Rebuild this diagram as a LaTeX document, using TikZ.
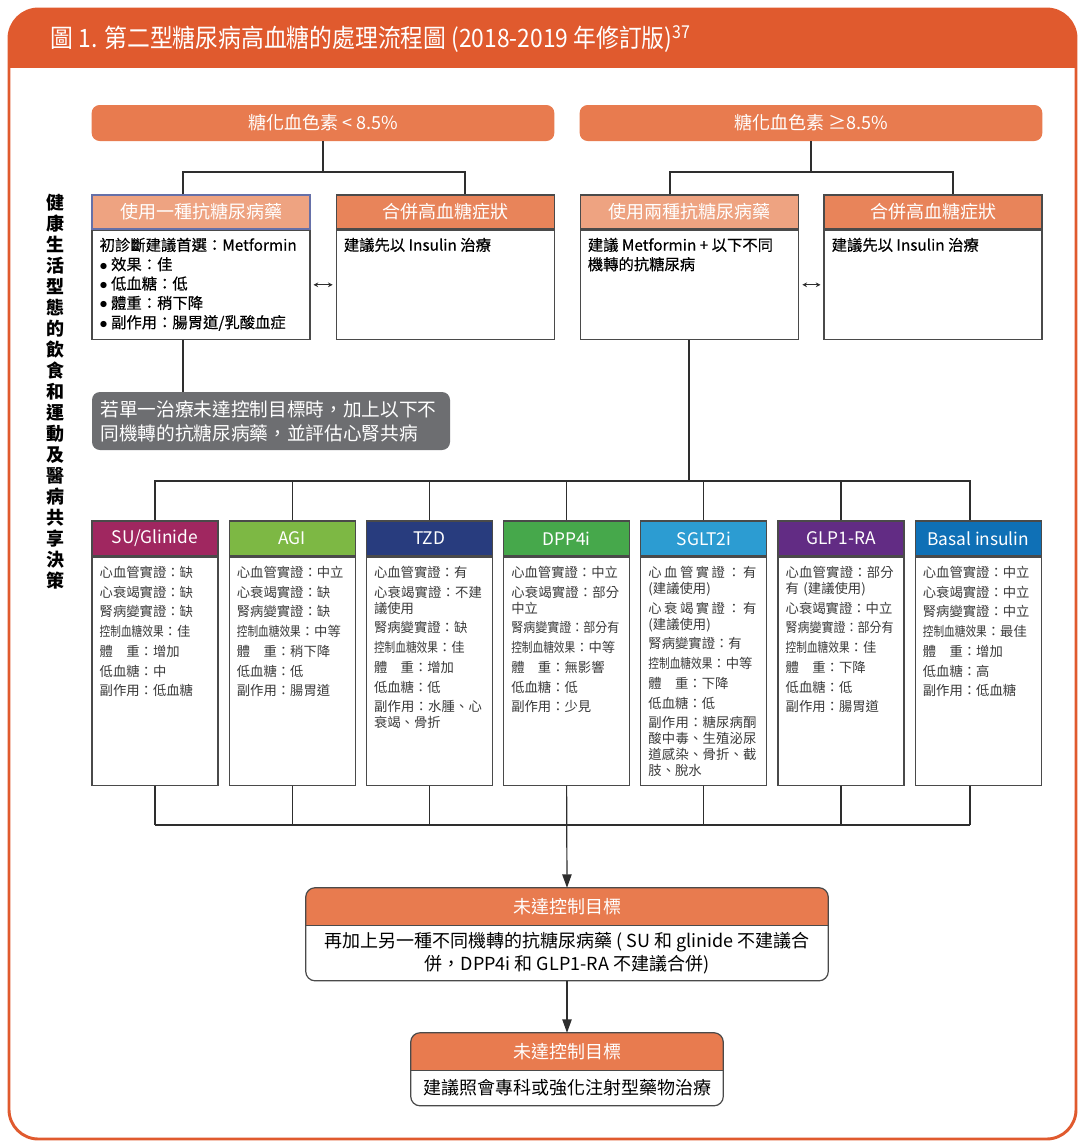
\documentclass[tikz,border=0pt]{standalone}
\usepackage{fontspec}
\setmainfont{Noto Sans CJK TC}
\newfontfamily\medfont{Noto Sans CJK TC}[FakeBold=0.4]
\usetikzlibrary{arrows.meta,positioning,backgrounds}

\definecolor{framec}{HTML}{E05A2E}
\definecolor{topc}{HTML}{E87B4F}
\definecolor{lightc}{HTML}{EEA381}
\definecolor{midc}{HTML}{E8845A}
\definecolor{notec}{HTML}{6D6E71}
\definecolor{boxline}{HTML}{4A4A4A}
\definecolor{hdrblue}{HTML}{6670A8}
\definecolor{wirec}{HTML}{2E2E2E}
\definecolor{txtc}{HTML}{3A3A3A}
\definecolor{suc}{HTML}{A02760}
\definecolor{agic}{HTML}{7DB844}
\definecolor{tzdc}{HTML}{283C7E}
\definecolor{dppc}{HTML}{46A84B}
\definecolor{sgltc}{HTML}{2C9CD2}
\definecolor{glpc}{HTML}{622C84}
\definecolor{basalc}{HTML}{0F70B6}

\newcommand{\ctl}{\scalebox{0.8}[1]{控制血糖效果}}
\newcommand{\sq}[1]{\resizebox{81pt}{\height}{#1}}
\newcommand{\jl}[1]{\makebox[81pt][s]{\spaceskip=0pt plus 1fil\relax #1}}
\newcommand{\cbr}{\\[-2.8pt]}
\newcommand{\bul}{$\bullet$\ }

\tikzset{
  wire/.style={draw=wirec, line width=0.9pt},
  arrow/.style={wire, -{Triangle[length=10pt,width=7pt]}},
  dbl/.style={wire, line width=0.7pt, {Stealth[length=3.5pt,width=3.5pt]}-{Stealth[length=3.5pt,width=3.5pt]}, shorten <=2.2pt, shorten >=2.2pt},
  topbox/.style={fill=topc, rounded corners=6pt, minimum width=347pt, minimum height=27pt,
    text=white, font=\fontsize{13.5}{16}\selectfont, inner sep=0pt},
  hdr/.style={draw=boxline, line width=0.8pt, minimum height=25.5pt, text=white,
    font=\fontsize{13.5}{16}\selectfont, inner sep=0pt},
  rowbody/.style={draw=boxline, line width=0.9pt, fill=white, anchor=north, minimum height=82pt, inner sep=0pt},
  rowtext/.style={anchor=north west, align=left, inner sep=0pt, text=black,
    font=\medfont\fontsize{11.5}{14.5}\selectfont},
  note/.style={fill=notec, rounded corners=6pt, text=white, minimum width=268.5pt, minimum height=43.5pt,
    text width=256pt, inner xsep=6pt, align=left, font=\fontsize{14}{18}\selectfont},
  drughdr/.style={draw=boxline, line width=0.8pt, minimum width=94.5pt, minimum height=26.25pt,
    text=white, inner sep=0pt, font=\fontsize{13}{15}\selectfont},
  drugbody/.style={draw=boxline, line width=0.9pt, fill=white, anchor=north, minimum width=94.5pt,
    minimum height=171pt, inner sep=0pt},
  drugtext/.style={anchor=north west, align=left, inner sep=0pt, text=txtc, text width=82.5pt,
    font=\fontsize{10}{14.8}\selectfont},
  goalhdr/.style={minimum height=27.75pt, text=white, inner sep=0pt, font=\fontsize{13.5}{16}\selectfont},
  goalbody/.style={anchor=north, align=center, inner sep=0pt, text=black,
    font=\fontsize{13.5}{17.25}\selectfont},
}

\begin{document}
\begin{tikzpicture}[x=0.75pt,y=-0.75pt]
\useasboundingbox (0,0) rectangle (1081,1142);

% frame and title band
\begin{scope}[on background layer]
  \draw[framec, line width=2.2pt, fill=white, rounded corners=22pt] (9,9) rectangle (1076,1139);
  \begin{scope}
    \clip (0,0) rectangle (1081,67);
    \fill[framec, rounded corners=22pt] (9,9) rectangle (1076,1139);
  \end{scope}
\end{scope}
\node[anchor=west, text=white, font=\fontsize{19}{22}\selectfont] (title) at (46,39)
  {\scalebox{0.9}[1]{圖 1. 第二型糖尿病高血糖的處理流程圖 (2018-2019 年修訂版)\textsuperscript{37}}};

\node[align=center, font=\bfseries\fontsize{13.5}{15.75}\selectfont] (side) at (55,392)
  {健\\康\\生\\活\\型\\態\\的\\飲\\食\\和\\運\\動\\及\\醫\\病\\共\\享\\決\\策};

% HbA1c
\node[topbox] (low) at (323,123) {糖化血色素 < 8.5\%};
\node[topbox] (high) at (811,123) {糖化血色素 ≥8.5\%};

% second row
\node[hdr, fill=lightc, draw=hdrblue, minimum width=163.5pt] (mono) at (201,212) {使用一種抗糖尿病藥};
\node[hdr, fill=midc, minimum width=164pt] (ins1) at (445.5,212) {合併高血糖症狀};
\node[hdr, fill=lightc, minimum width=164pt] (dual) at (689.5,212) {使用兩種抗糖尿病藥};
\node[hdr, fill=midc, minimum width=163.5pt] (ins2) at (933,212) {合併高血糖症狀};
\foreach \n/\w in {mono/163.5pt,ins1/164pt,dual/164pt,ins2/163.5pt}
  \node[rowbody, minimum width=\w] (\n b) at (\n.south) {};

\node[rowtext] (monot) at ([shift={(6pt,-6pt)}]monob.north west)
  {初診斷建議首選：Metformin\\\bul 效果：佳\\\bul 低血糖：低\\\bul 體重：稍下降\\\bul 副作用：腸胃道/乳酸血症};
\node[rowtext] (ins1t) at ([shift={(6pt,-6pt)}]ins1b.north west) {建議先以 Insulin 治療};
\node[rowtext] (dualt) at ([shift={(6pt,-6pt)}]dualb.north west) {建議 Metformin + 以下不同\\機轉的抗糖尿病};
\node[rowtext] (ins2t) at ([shift={(6pt,-6pt)}]ins2b.north west) {建議先以 Insulin 治療};

\draw[dbl] (monob.east) -- (ins1b.west);
\draw[dbl] (dualb.east) -- (ins2b.west);

\coordinate (lowj) at (323,172);
\draw[wire] (low.south) -- (lowj);
\draw[wire] (mono.north -| 183,0) |- (lowj) -| (ins1.north -| 465,0);
\coordinate (highj) at (811,172);
\draw[wire] (high.south) -- (highj);
\draw[wire] (dual.north -| 670,0) |- (highj) -| (ins2.north -| 953,0);

\node[note] (note) at (271,421) {若單一治療未達控制目標時，加上以下不\\同機轉的抗糖尿病藥，並評估心腎共病};
\draw[wire] (monob.south -| 183,0) -- (note.north -| 183,0);

% drug classes
\foreach \nm/\lab/\col/\txt [count=\i] in {
  su/{SU/Glinide}/suc/{心血管實證：缺\\心衰竭實證：缺\\腎病變實證：缺\\\ctl：佳\\體　重：增加\\低血糖：中\\副作用：低血糖},
  agi/AGI/agic/{心血管實證：中立\\心衰竭實證：缺\\腎病變實證：缺\\\ctl：中等\\體　重：稍下降\\低血糖：低\\副作用：腸胃道},
  tzd/TZD/tzdc/{心血管實證：有\\\jl{心 衰 竭 實 證 ： 不 建}\cbr 議使用\\腎病變實證：缺\\\ctl：佳\\體　重：增加\\低血糖：低\\\jl{副 作 用 ： 水 腫 、 心}\cbr 衰竭、骨折},
  dpp/DPP4i/dppc/{心血管實證：中立\\\jl{心 衰 竭 實 證 ： 部 分}\cbr 中立\\\sq{腎病變實證：部分有}\\\ctl：中等\\體　重：無影響\\低血糖：低\\副作用：少見},
  sglt/SGLT2i/sgltc/{\jl{心 血 管 實 證 ： 有}\cbr (建議使用)\\\jl{心 衰 竭 實 證 ： 有}\cbr (建議使用)\\腎病變實證：有\\\ctl：中等\\體　重：下降\\低血糖：低\\\jl{副 作 用 ： 糖 尿 病 酮}\cbr \jl{酸 中 毒 、 生 殖 泌 尿}\cbr \jl{道 感 染 、 骨 折 、 截}\cbr 肢、脫水},
  glp/GLP1-RA/glpc/{\jl{心 血 管 實 證 ： 部 分}\cbr 有 (建議使用)\\心衰竭實證：中立\\\sq{腎病變實證：部分有}\\\ctl：佳\\體　重：下降\\低血糖：低\\副作用：腸胃道},
  basal/{Basal insulin}/basalc/{心血管實證：中立\\心衰竭實證：中立\\腎病變實證：中立\\\ctl：最佳\\體　重：增加\\低血糖：高\\副作用：低血糖}
}{
  \node[drughdr, fill=\col] (\nm) at ({155+137.2*(\i-1)},538.5) {\lab};
  \node[drugbody] (\nm b) at (\nm.south) {};
  \node[drugtext] (\nm t) at ([shift={(6pt,-7pt)}]\nm b.north west) {\txt};
}

\coordinate (busa) at (689,481);
\draw[wire] (dualb.south -| busa) -- (busa);
\draw[wire] (su.north) |- (busa) -| (basal.north -| 970,0);
\foreach \n in {agi,tzd,dpp,sglt,glp}
  \draw[wire] (\n.north) -- (\n.north |- busa);

% not at goal
\node[goalhdr, minimum width=391.5pt] (goal1) at (567,906.5) {未達控制目標};
\node[goalbody, minimum width=391.5pt, minimum height=41.25pt] (goal1b) at (goal1.south)
  {再加上另一種不同機轉的抗糖尿病藥 ( SU 和 glinide 不建議合\\併，DPP4i 和 GLP1-RA 不建議合併)};
\node[goalhdr, minimum width=234pt] (goal2) at (567,1051.5) {未達控制目標};
\node[goalbody, minimum width=234pt, minimum height=26.25pt] (goal2b) at (goal2.south)
  {建議照會專科或強化注射型藥物治療};
\begin{scope}[on background layer]
  \foreach \g in {goal1,goal2}{
    \begin{scope}
      \clip (\g.north west) rectangle (\g.south east);
      \fill[topc, rounded corners=7pt] (\g.north west) rectangle (\g b.south east);
    \end{scope}
  }
\end{scope}
\foreach \g in {goal1,goal2}{
  \draw[boxline, line width=0.9pt, rounded corners=7pt] (\g.north west) rectangle (\g b.south east);
  \draw[boxline, line width=0.9pt] (\g.south west) -- (\g.south east);
}

\coordinate (busb) at (567,825);
\foreach \n in {su,agi,tzd,sglt,glp}
  \draw[wire] (\n b.south) -- (\n b.south |- busb);
\draw[wire] (basalb.south -| 970,0) -- (busb -| 970,0);
\draw[wire] (sub.south |- busb) -- (busb -| 970,0);
\draw[arrow] (dppb.south) -- (goal1.north);
\draw[arrow] (goal1b.south) -- (goal2.north);
\end{tikzpicture}
\end{document}
